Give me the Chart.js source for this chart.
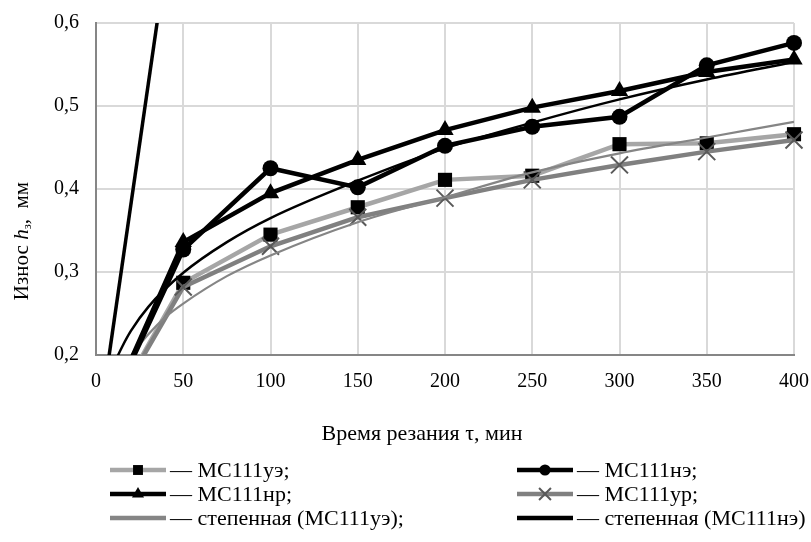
<!DOCTYPE html>
<html>
<head>
<meta charset="utf-8">
<script src="https://cdn.jsdelivr.net/npm/chart.js@4/dist/chart.umd.min.js"></script>
<style>
  html, body { margin: 0; padding: 0; background: #fff; }
  canvas { display: block; }
</style>
</head>
<body>
<canvas id="c" width="811" height="542"></canvas>
<script>
// ---- data ----
const times = [0, 50, 100, 150, 200, 250, 300, 350, 400];
const mc111ue = [0.1, 0.287, 0.345, 0.378, 0.411, 0.416, 0.454, 0.455, 0.466];
const mc111ne = [0.1, 0.327, 0.425, 0.402, 0.452, 0.475, 0.487, 0.549, 0.576];
const mc111nr = [0.1, 0.336, 0.395, 0.435, 0.471, 0.498, 0.518, 0.541, 0.556];
const mc111ur = [0.1, 0.282, 0.331, 0.366, 0.389, 0.411, 0.429, 0.445, 0.459];

const trendUeX = [15, 20, 30, 40, 50, 75, 100, 150, 200, 250, 300, 350, 400];
const trendUeY = [0.183, 0.199, 0.225, 0.246, 0.262, 0.295, 0.32, 0.36, 0.39, 0.42, 0.443, 0.462, 0.481];

const trendNeX = [0, 40];
const trendNeY = [0.09, 0.673];

const trendBlackX = [10, 15, 20, 30, 50, 75, 100, 150, 200, 250, 300, 350, 400];
const trendBlackY = [0.188, 0.21, 0.229, 0.258, 0.299, 0.336, 0.365, 0.41, 0.449, 0.48, 0.508, 0.532, 0.553];

const xTicks = [0, 50, 100, 150, 200, 250, 300, 350, 400];
const yTicks = [0.2, 0.3, 0.4, 0.5, 0.6];

const legendLabels = ['— МС111уэ;', '— МС111нэ;', '— МС111нр;', '— МС111ур;', '— степенная (МС111уэ);', '— степенная (МС111нэ)'];
const xTitle = 'Время резания τ, мин';

const pts = (xs, ys) => xs.map((x, i) => ({ x: x, y: ys[i] }));
const FONT = "'Liberation Serif', 'Times New Roman', serif";
const clipData = { left: 0, bottom: 0, right: false, top: false };

const datasets = [
  { label: legendLabels[0], data: pts(times, mc111ue), borderColor: '#a6a6a6', borderWidth: 4.5,
    pointStyle: 'rect', pointRadius: 10, pointBackgroundColor: '#000', pointBorderColor: '#000', pointBorderWidth: 0,
    order: 5, clip: clipData },
  { label: legendLabels[1], data: pts(times, mc111ne), borderColor: '#000', borderWidth: 4.5,
    pointStyle: 'circle', pointRadius: 8, pointBackgroundColor: '#000', pointBorderColor: '#000', pointBorderWidth: 0,
    order: 1, clip: clipData },
  { label: legendLabels[2], data: pts(times, mc111nr), borderColor: '#000', borderWidth: 4.5,
    pointStyle: 'triangle', pointRadius: 10, pointBackgroundColor: '#000', pointBorderColor: '#000', pointBorderWidth: 0,
    order: 2, clip: clipData },
  { label: legendLabels[3], data: pts(times, mc111ur), borderColor: '#808080', borderWidth: 4.5,
    pointStyle: 'crossRot', pointRadius: 12, pointBackgroundColor: '#595959', pointBorderColor: '#595959', pointBorderWidth: 2,
    order: 4, clip: clipData },
  { label: legendLabels[4], data: pts(trendUeX, trendUeY), borderColor: '#858585', borderWidth: 2.2,
    pointRadius: 0, cubicInterpolationMode: 'monotone', order: 3, clip: 0 },
  { label: legendLabels[5], data: pts(trendNeX, trendNeY), borderColor: '#000', borderWidth: 3.5,
    pointRadius: 0, order: 0, clip: 0 },
  { label: 'степенная (МС111нр)', data: pts(trendBlackX, trendBlackY), borderColor: '#000', borderWidth: 2.5,
    pointRadius: 0, cubicInterpolationMode: 'monotone', order: 2.5, clip: 0 }
];

function drawMarker(ctx, style, x, y, r, color, lw) {
  ctx.save();
  ctx.fillStyle = color; ctx.strokeStyle = color; ctx.lineWidth = lw || 2;
  ctx.beginPath();
  if (style === 'rect') {
    const s = Math.SQRT1_2 * r;
    ctx.rect(x - s, y - s, 2 * s, 2 * s); ctx.fill();
  } else if (style === 'circle') {
    ctx.arc(x, y, r, 0, Math.PI * 2); ctx.fill();
  } else if (style === 'triangle') {
    ctx.moveTo(x, y - r);
    ctx.lineTo(x + 0.866 * r, y + 0.5 * r);
    ctx.lineTo(x - 0.866 * r, y + 0.5 * r);
    ctx.closePath(); ctx.fill();
  } else if (style === 'crossRot') {
    const s = Math.SQRT1_2 * r;
    ctx.moveTo(x - s, y - s); ctx.lineTo(x + s, y + s);
    ctx.moveTo(x + s, y - s); ctx.lineTo(x - s, y + s);
    ctx.stroke();
  }
  ctx.restore();
}

const legendPos = [
  { ds: 0, x: 110, y: 470 }, { ds: 1, x: 517, y: 470 },
  { ds: 2, x: 110, y: 494 }, { ds: 3, x: 517, y: 494 },
  { ds: 4, x: 110, y: 518 }, { ds: 5, x: 517, y: 518 }
];

const extrasPlugin = {
  id: 'extras',
  afterDraw(chart) {
    const ctx = chart.ctx;
    // legend
    legendPos.forEach(p => {
      const d = chart.data.datasets[p.ds];
      ctx.save();
      ctx.strokeStyle = d.borderColor;
      ctx.lineWidth = Math.max(d.borderWidth, 4.5);
      ctx.beginPath(); ctx.moveTo(p.x, p.y); ctx.lineTo(p.x + 56, p.y); ctx.stroke();
      ctx.restore();
      if (d.pointRadius > 0) {
        drawMarker(ctx, d.pointStyle, p.x + 28, p.y, d.pointRadius * 0.7, d.pointBackgroundColor, d.pointBorderWidth);
      }
      ctx.save();
      ctx.fillStyle = '#000'; ctx.font = '22px ' + FONT; ctx.textBaseline = 'middle'; ctx.textAlign = 'left';
      ctx.fillText(d.label, p.x + 60, p.y + 1);
      ctx.restore();
    });
    // x title
    ctx.save();
    ctx.fillStyle = '#000'; ctx.font = '22px ' + FONT; ctx.textAlign = 'center'; ctx.textBaseline = 'middle';
    ctx.fillText(xTitle, 422, 434);
    ctx.restore();
    // y title (rotated, with italic h and subscript з)
    const parts = [
      { t: 'Износ ', f: '21px ' + FONT, dy: 0 },
      { t: 'h', f: 'italic 21px ' + FONT, dy: 0 },
      { t: 'з', f: '13px ' + FONT, dy: 6 },
      { t: ',  мм', f: '21px ' + FONT, dy: 0 }
    ];
    ctx.save();
    let total = 0;
    parts.forEach(p => { ctx.font = p.f; p.w = ctx.measureText(p.t).width; total += p.w; });
    ctx.translate(22, 241);
    ctx.rotate(-Math.PI / 2);
    ctx.fillStyle = '#000'; ctx.textBaseline = 'middle'; ctx.textAlign = 'left';
    let cx = -total / 2;
    parts.forEach(p => { ctx.font = p.f; ctx.fillText(p.t, cx, p.dy); cx += p.w; });
    ctx.restore();
  }
};

new Chart(document.getElementById('c'), {
  type: 'line',
  data: { datasets: datasets },
  options: {
    responsive: false,
    devicePixelRatio: 1,
    animation: false,
    layout: { padding: { left: 0, right: 17, top: 23, bottom: 142 } },
    plugins: { legend: { display: false }, tooltip: { enabled: false } },
    scales: {
      x: {
        type: 'linear', min: 0, max: 400,
        afterBuildTicks: s => { s.ticks = xTicks.map(v => ({ value: v })); },
        afterFit: s => { s.height = 45; s.paddingLeft = 0; s.paddingRight = 0; },
        grid: { color: '#d9d9d9', lineWidth: 2, drawTicks: false },
        border: { display: true, color: '#868686', width: 2 },
        ticks: { color: '#000', font: { family: FONT, size: 20 }, padding: 15, maxRotation: 0,
          callback: v => String(v) }
      },
      y: {
        type: 'linear', min: 0.2, max: 0.6,
        afterBuildTicks: s => { s.ticks = yTicks.map(v => ({ value: v })); },
        afterFit: s => { s.width = 96; s.paddingTop = 0; s.paddingBottom = 0; },
        grid: { color: '#d9d9d9', lineWidth: 2, drawTicks: false },
        border: { display: true, color: '#868686', width: 2 },
        ticks: { color: '#000', font: { family: FONT, size: 20 }, padding: 17,
          callback: v => v.toFixed(1).replace('.', ',') }
      }
    }
  },
  plugins: [extrasPlugin]
});
</script>
</body>
</html>
